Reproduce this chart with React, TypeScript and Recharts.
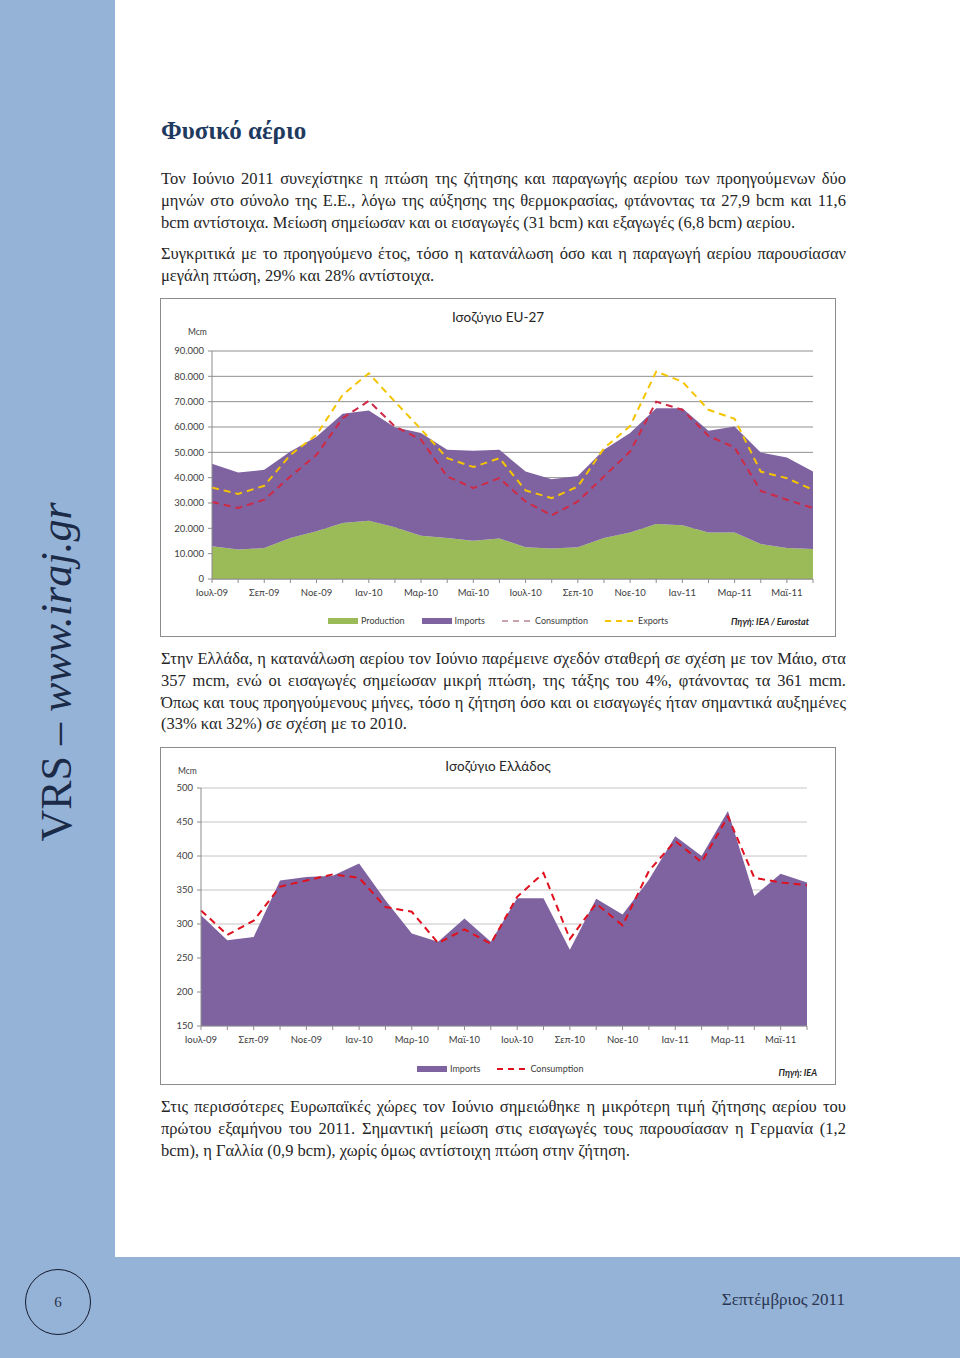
import React from "react";
import { ComposedChart, Area, Line, XAxis, YAxis, CartesianGrid } from "recharts";

// monthly categories, Jul-09 .. Jun-11
const months = [
  "Ιουλ-09", "Αυγ-09", "Σεπ-09", "Οκτ-09", "Νοε-09", "Δεκ-09",
  "Ιαν-10", "Φεβ-10", "Μαρ-10", "Απρ-10", "Μαϊ-10", "Ιουν-10",
  "Ιουλ-10", "Αυγ-10", "Σεπ-10", "Οκτ-10", "Νοε-10", "Δεκ-10",
  "Ιαν-11", "Φεβ-11", "Μαρ-11", "Απρ-11", "Μαϊ-11", "Ιουν-11",
];

// EU-27 balance, Mcm
const euProduction = [12900, 11600, 12200, 16200, 18800, 22100, 23000, 20400, 17100, 16200, 15100, 16000, 12500, 12000, 12500, 16200, 18400, 21700, 21200, 18400, 18400, 13800, 12200, 11800];
const euImports = [32600, 30400, 30900, 34100, 37400, 43100, 43500, 39500, 40500, 34800, 35500, 35000, 29900, 27400, 28200, 34800, 39200, 45700, 46200, 40100, 41800, 36100, 35800, 30600];
const euConsumption = [30400, 28000, 31300, 40500, 49000, 63500, 70300, 60200, 55000, 40500, 35900, 39800, 30600, 25100, 30600, 40500, 50300, 70000, 66800, 56500, 51900, 34800, 31300, 28000];
const euExports = [36100, 33600, 36800, 49000, 56900, 72700, 81200, 70000, 59100, 47700, 44200, 47700, 35000, 31900, 36500, 51600, 60400, 81900, 77900, 66800, 63200, 42400, 39800, 35200];
const euTicks = [0, 10000, 20000, 30000, 40000, 50000, 60000, 70000, 80000, 90000];

// Greece balance, Mcm
const grImports = [313, 276, 281, 364, 369, 371, 389, 335, 286, 274, 308, 274, 338, 338, 262, 337, 314, 365, 429, 400, 466, 341, 374, 361];
const grConsumption = [320, 284, 305, 355, 364, 373, 368, 325, 318, 272, 292, 271, 340, 375, 278, 330, 298, 378, 422, 391, 458, 368, 361, 357];
const grTicks = [150, 200, 250, 300, 350, 400, 450, 500];

const para1 = [
  "Τον Ιούνιο 2011 συνεχίστηκε η πτώση της ζήτησης και παραγωγής αερίου των προηγούμενων δύο",
  "μηνών στο σύνολο της Ε.Ε., λόγω της αύξησης της θερμοκρασίας, φτάνοντας τα 27,9 bcm και 11,6",
  "bcm αντίστοιχα. Μείωση σημείωσαν και οι εισαγωγές (31 bcm) και εξαγωγές (6,8 bcm) αερίου.",
];
const para2 = [
  "Συγκριτικά με το προηγούμενο έτος, τόσο η κατανάλωση όσο και η παραγωγή αερίου παρουσίασαν",
  "μεγάλη πτώση, 29% και 28% αντίστοιχα.",
];
const para3 = [
  "Στην Ελλάδα, η κατανάλωση αερίου τον Ιούνιο παρέμεινε σχεδόν σταθερή σε σχέση με τον Μάιο, στα",
  "357 mcm, ενώ οι εισαγωγές σημείωσαν μικρή πτώση, της τάξης του 4%, φτάνοντας τα 361 mcm.",
  "Όπως και τους προηγούμενους μήνες, τόσο η ζήτηση όσο και οι εισαγωγές ήταν σημαντικά αυξημένες",
  "(33% και 32%) σε σχέση με το 2010.",
];
const para4 = [
  "Στις περισσότερες Ευρωπαϊκές χώρες τον Ιούνιο σημειώθηκε η μικρότερη τιμή ζήτησης αερίου του",
  "πρώτου εξαμήνου του 2011. Σημαντική μείωση στις εισαγωγές τους παρουσίασαν η Γερμανία (1,2",
  "bcm), η Γαλλία (0,9 bcm), χωρίς όμως αντίστοιχη πτώση στην ζήτηση.",
];

const BLUE = "#95b3d7";
const GREEN = "#9bbb59";
const PURPLE = "#7f63a1";
const CHART_FONT = "Lato, 'Liberation Sans', sans-serif";
const SERIF = "'Liberation Serif', 'DejaVu Serif', serif";

const euData = months.map((month, i) => ({
  month,
  production: euProduction[i],
  imports: euImports[i],
  consumption: euConsumption[i],
  exports: euExports[i],
}));

const grData = months.map((month, i) => ({
  month,
  imports: grImports[i],
  consumption: grConsumption[i],
}));

const thousands = (v: number) => String(v).replace(/\B(?=(\d{3})+(?!\d))/g, ".");

// label only every second month, tick marks on all of them
const MonthTick = (props: any) => {
  const { x, y, payload } = props;
  const i = months.indexOf(payload.value);
  if (i % 2 !== 0) return <g />;
  return (
    <text x={x} y={y} dy="0.71em" textAnchor="middle" fontSize={9.5} fill="#404040" fontFamily={CHART_FONT}>
      {payload.value}
    </text>
  );
};

type LegendItem = { label: string; color: string; kind: "area" | "dash" };

const LegendRow = ({ items, left, top }: { items: LegendItem[]; left: number; top: number }) => (
  <div style={{ position: "absolute", left, top, display: "flex", alignItems: "center", gap: 17, fontFamily: CHART_FONT, fontSize: 9, color: "#404040" }}>
    {items.map((it) => (
      <div key={it.label} style={{ display: "flex", alignItems: "center", gap: 3 }}>
        {it.kind === "area" ? (
          <div style={{ width: 30, height: 6, background: it.color }} />
        ) : (
          <svg width={30} height={6}>
            <line x1={0} y1={3} x2={30} y2={3} stroke={it.color} strokeWidth={2} strokeDasharray="6 5" />
          </svg>
        )}
        <span>{it.label}</span>
      </div>
    ))}
  </div>
);

const TextLines = ({ lines, top }: { lines: string[]; top: number }) => (
  <>
    {lines.map((t, i) => (
      <div
        key={i}
        style={{
          position: "absolute",
          left: 161,
          top: top + i * 21.8,
          width: 685,
          fontFamily: SERIF,
          fontSize: 16.5,
          lineHeight: "20px",
          color: "#262626",
          textAlign: "justify",
          textAlignLast: i === lines.length - 1 ? "left" : "justify",
        } as React.CSSProperties}
      >
        {t}
      </div>
    ))}
  </>
);

const EuChart = () => (
  <div style={{ position: "absolute", left: 160, top: 298, width: 676, height: 339 }}>
    <div style={{ position: "absolute", inset: 0, border: "1px solid #8c8c8c" }} />
    <div style={{ position: "absolute", left: 0, top: 0 }}>
      <ComposedChart width={676} height={339} data={euData} margin={{ top: 53, right: 23, bottom: 28, left: 0 }}>
        <CartesianGrid vertical={false} stroke="#8f8f8f" />
        <XAxis dataKey="month" scale="point" interval={0} tick={<MonthTick />} tickSize={4} tickMargin={6}
          axisLine={{ stroke: "#8c8c8c" }} tickLine={{ stroke: "#8c8c8c" }} padding={{ left: 0, right: 0 }} />
        <YAxis width={52} domain={[0, 90000]} ticks={euTicks} tickFormatter={thousands} tickSize={4} tickMargin={4}
          axisLine={{ stroke: "#8c8c8c" }} tickLine={{ stroke: "#8c8c8c" }}
          tick={{ fontSize: 9.5, fill: "#404040", fontFamily: CHART_FONT }} />
        <Area type="linear" dataKey="production" stackId="eu" fill={GREEN} fillOpacity={1} stroke="none" isAnimationActive={false} />
        <Area type="linear" dataKey="imports" stackId="eu" fill={PURPLE} fillOpacity={1} stroke="none" isAnimationActive={false} />
        <Line type="linear" dataKey="consumption" stroke="#cf2a45" strokeWidth={2} strokeDasharray="7 5" dot={false} activeDot={false} isAnimationActive={false} />
        <Line type="linear" dataKey="exports" stroke="#f5c400" strokeWidth={2} strokeDasharray="7 5" dot={false} activeDot={false} isAnimationActive={false} />
      </ComposedChart>
    </div>
    <div style={{ position: "absolute", left: 0, width: 676, top: 11, textAlign: "center", fontFamily: CHART_FONT, fontSize: 13.5, color: "#262626" }}>
      Ισοζύγιο EU-27
    </div>
    <div style={{ position: "absolute", left: 28, top: 29, fontFamily: CHART_FONT, fontSize: 8.5, color: "#404040" }}>Mcm</div>
    <LegendRow
      left={168}
      top={317}
      items={[
        { label: "Production", color: GREEN, kind: "area" },
        { label: "Imports", color: PURPLE, kind: "area" },
        { label: "Consumption", color: "#c9a3aa", kind: "dash" },
        { label: "Exports", color: "#f5c400", kind: "dash" },
      ]}
    />
    <div style={{ position: "absolute", right: 27, top: 318, fontFamily: CHART_FONT, fontSize: 9, fontStyle: "italic", fontWeight: 700, color: "#262626" }}>
      Πηγή: IEA / Eurostat
    </div>
  </div>
);

const GreeceChart = () => (
  <div style={{ position: "absolute", left: 160, top: 747, width: 676, height: 338 }}>
    <div style={{ position: "absolute", inset: 0, border: "1px solid #8c8c8c" }} />
    <div style={{ position: "absolute", left: 0, top: 0 }}>
      <ComposedChart width={676} height={338} data={grData} margin={{ top: 41, right: 29, bottom: 29, left: 0 }}>
        <CartesianGrid vertical={false} stroke="#c4c4c4" />
        <XAxis dataKey="month" scale="point" interval={0} tick={<MonthTick />} tickSize={4} tickMargin={6}
          axisLine={{ stroke: "#8c8c8c" }} tickLine={{ stroke: "#8c8c8c" }} padding={{ left: 0, right: 0 }} />
        <YAxis width={41} domain={[150, 500]} ticks={grTicks} tickSize={4} tickMargin={4}
          axisLine={{ stroke: "#8c8c8c" }} tickLine={{ stroke: "#8c8c8c" }}
          tick={{ fontSize: 9.5, fill: "#404040", fontFamily: CHART_FONT }} />
        <Area type="linear" dataKey="imports" fill={PURPLE} fillOpacity={1} stroke="none" isAnimationActive={false} />
        <Line type="linear" dataKey="consumption" stroke="#e0101e" strokeWidth={2} strokeDasharray="7 5" dot={false} activeDot={false} isAnimationActive={false} />
      </ComposedChart>
    </div>
    <div style={{ position: "absolute", left: 0, width: 676, top: 11, textAlign: "center", fontFamily: CHART_FONT, fontSize: 13.5, color: "#262626" }}>
      Ισοζύγιο Ελλάδος
    </div>
    <div style={{ position: "absolute", left: 18, top: 19, fontFamily: CHART_FONT, fontSize: 8.5, color: "#404040" }}>Mcm</div>
    <LegendRow
      left={257}
      top={316}
      items={[
        { label: "Imports", color: PURPLE, kind: "area" },
        { label: "Consumption", color: "#e0101e", kind: "dash" },
      ]}
    />
    <div style={{ position: "absolute", right: 19, top: 320, fontFamily: CHART_FONT, fontSize: 9, fontStyle: "italic", fontWeight: 700, color: "#262626" }}>
      Πηγή: IEA
    </div>
  </div>
);

export default function App() {
  return (
    <div style={{ position: "absolute", left: 0, top: 0, width: 960, height: 1358, background: "#fff", overflow: "hidden" }}>
      {/* side bar and footer band */}
      <div style={{ position: "absolute", left: 0, top: 0, width: 115, height: 1358, background: BLUE }} />
      <div style={{ position: "absolute", left: 0, top: 1257, width: 960, height: 101, background: BLUE }} />

      <div
        style={{
          position: "absolute",
          left: 57,
          top: 672,
          transform: "translate(-50%, -50%) rotate(-90deg)",
          whiteSpace: "nowrap",
          fontFamily: SERIF,
          fontSize: 44,
          lineHeight: 1,
          color: "#1b2a47",
        }}
      >
        VRS – <i>www.iraj.gr</i>
      </div>

      <div style={{ position: "absolute", left: 161, top: 117, fontFamily: SERIF, fontSize: 25, fontWeight: 700, color: "#1f3a5f" }}>
        Φυσικό αέριο
      </div>

      <TextLines lines={para1} top={169} />
      <TextLines lines={para2} top={244} />
      <EuChart />
      <TextLines lines={para3} top={649} />
      <GreeceChart />
      <TextLines lines={para4} top={1097} />

      {/* footer */}
      <div
        style={{
          position: "absolute",
          left: 25,
          top: 1269,
          width: 64,
          height: 64,
          border: "1.5px solid #151a2e",
          borderRadius: "50%",
          display: "flex",
          alignItems: "center",
          justifyContent: "center",
          fontFamily: SERIF,
          fontSize: 15,
          color: "#2a3550",
        }}
      >
        6
      </div>
      <div style={{ position: "absolute", right: 115, top: 1290, fontFamily: SERIF, fontSize: 17, color: "#2a3550" }}>
        Σεπτέμβριος 2011
      </div>
    </div>
  );
}
